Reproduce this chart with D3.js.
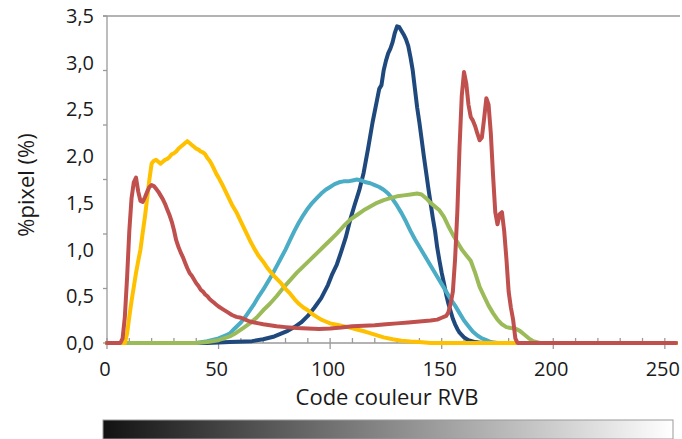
<!DOCTYPE html>
<html>
<head>
<meta charset="utf-8">
<script src="https://cdn.jsdelivr.net/npm/d3@7"></script>
<style>
  body { margin: 0; background: #fff; }
  text { font-family: "Open Sans", sans-serif; fill: #1a1a1a; }
</style>
</head>
<body>
<div id="chart"></div>
<script>
// tick labels
var xTicks = [0, 50, 100, 150, 200, 250];
var yTicks = [0, 0.5, 1, 1.5, 2, 2.5, 3, 3.5];

// series: code couleur (x) / %pixel (y)
var redX = [0, 6, 7, 8, 9, 10, 11, 12, 13, 14, 15, 16, 17, 18, 19, 20, 21, 22, 23, 24, 25, 26, 27, 28, 29, 30, 31, 32, 33, 34, 35, 36, 37, 38, 39, 40, 41, 42, 43, 44, 45, 46, 47, 48, 49, 50, 52, 54, 56, 58, 60, 62, 64, 66, 68, 70, 73, 76, 80, 85, 90, 95, 100, 105, 110, 115, 120, 125, 130, 135, 140, 145, 148, 150, 152, 153, 154, 155, 156, 157, 158, 159, 160, 161, 162, 163, 164, 165, 166, 167, 168, 169, 170, 171, 172, 173, 174, 175, 176, 177, 178, 179, 180, 181, 182, 183, 184, 255];
var redY = [0, 0, 0.05, 0.28, 0.7, 1.2, 1.55, 1.72, 1.77, 1.62, 1.52, 1.51, 1.56, 1.62, 1.67, 1.69, 1.68, 1.65, 1.62, 1.58, 1.54, 1.49, 1.43, 1.37, 1.3, 1.21, 1.1, 1.03, 0.97, 0.92, 0.86, 0.8, 0.75, 0.72, 0.68, 0.64, 0.61, 0.57, 0.55, 0.52, 0.5, 0.47, 0.45, 0.43, 0.41, 0.39, 0.36, 0.33, 0.3, 0.28, 0.27, 0.25, 0.23, 0.22, 0.21, 0.2, 0.19, 0.18, 0.17, 0.16, 0.155, 0.15, 0.155, 0.165, 0.18, 0.185, 0.19, 0.2, 0.21, 0.22, 0.23, 0.24, 0.25, 0.27, 0.29, 0.33, 0.42, 0.55, 0.9, 1.4, 2.1, 2.65, 2.9, 2.78, 2.55, 2.42, 2.38, 2.32, 2.24, 2.17, 2.2, 2.4, 2.62, 2.55, 2.25, 1.8, 1.4, 1.27, 1.38, 1.4, 1.2, 0.9, 0.55, 0.38, 0.25, 0.05, 0, 0];

var yellowX = [0, 8, 9, 10, 11, 12, 13, 14, 15, 16, 17, 18, 19, 20, 21, 22, 23, 24, 25, 26, 27, 28, 29, 30, 31, 32, 33, 34, 35, 36, 37, 38, 39, 40, 41, 42, 43, 44, 45, 46, 47, 48, 49, 50, 52, 54, 56, 58, 60, 62, 64, 66, 68, 70, 72, 74, 76, 78, 80, 82, 84, 86, 88, 90, 92, 94, 96, 98, 100, 104, 108, 112, 116, 120, 124, 128, 132, 136, 140, 145, 255];
var yellowY = [0, 0, 0.1, 0.28, 0.45, 0.6, 0.75, 0.88, 1.0, 1.18, 1.35, 1.55, 1.75, 1.92, 1.95, 1.96, 1.94, 1.92, 1.94, 1.96, 1.97, 1.99, 2.02, 2.03, 2.05, 2.08, 2.1, 2.12, 2.14, 2.16, 2.14, 2.12, 2.1, 2.08, 2.07, 2.05, 2.04, 2.02, 1.98, 1.95, 1.91, 1.86, 1.81, 1.77, 1.68, 1.58, 1.48, 1.4, 1.3, 1.2, 1.1, 1.01, 0.93, 0.87, 0.8, 0.74, 0.69, 0.64, 0.58, 0.53, 0.47, 0.42, 0.38, 0.35, 0.31, 0.28, 0.25, 0.23, 0.21, 0.19, 0.17, 0.145, 0.12, 0.09, 0.06, 0.04, 0.025, 0.015, 0.01, 0, 0];

var cyanX = [0, 40, 45, 50, 53, 55, 57, 60, 62, 64, 66, 68, 70, 72, 74, 76, 78, 80, 82, 84, 86, 88, 90, 92, 94, 96, 98, 100, 102, 104, 106, 108, 110, 112, 114, 116, 118, 120, 122, 124, 126, 128, 130, 132, 134, 136, 138, 140, 142, 144, 146, 148, 150, 152, 154, 156, 158, 160, 162, 164, 166, 168, 170, 172, 175, 255];
var cyanY = [0, 0, 0.02, 0.05, 0.08, 0.1, 0.15, 0.22, 0.28, 0.35, 0.42, 0.5, 0.57, 0.65, 0.73, 0.82, 0.91, 1.0, 1.1, 1.2, 1.29, 1.37, 1.44, 1.5, 1.55, 1.6, 1.64, 1.67, 1.7, 1.72, 1.73, 1.73, 1.74, 1.75, 1.74, 1.72, 1.71, 1.69, 1.67, 1.64, 1.6, 1.54, 1.47, 1.39, 1.3, 1.2, 1.11, 1.03, 0.95, 0.87, 0.79, 0.71, 0.63, 0.55, 0.47, 0.4, 0.32, 0.24, 0.18, 0.12, 0.08, 0.05, 0.03, 0.01, 0, 0];

var greenX = [0, 40, 45, 50, 55, 58, 61, 64, 67, 70, 73, 76, 79, 82, 85, 88, 91, 94, 97, 100, 103, 106, 109, 112, 115, 118, 121, 124, 127, 130, 133, 136, 139, 141, 143, 145, 147, 149, 151, 153, 155, 157, 159, 161, 163, 165, 167, 169, 171, 173, 175, 177, 179, 181, 183, 185, 187, 189, 191, 194, 255];
var greenY = [0, 0, 0.01, 0.03, 0.07, 0.11, 0.16, 0.21, 0.27, 0.35, 0.42, 0.5, 0.59, 0.67, 0.75, 0.82, 0.89, 0.96, 1.03, 1.1, 1.17, 1.25, 1.32, 1.37, 1.42, 1.46, 1.5, 1.53, 1.55, 1.57, 1.58, 1.59, 1.6, 1.59, 1.55, 1.5, 1.46, 1.42, 1.35, 1.25, 1.16, 1.08, 1.0, 0.94, 0.88, 0.75, 0.6, 0.5, 0.4, 0.32, 0.25, 0.2, 0.17, 0.16, 0.155, 0.13, 0.09, 0.05, 0.02, 0, 0];

var blueX = [0, 45, 55, 65, 70, 75, 78, 81, 84, 87, 90, 93, 96, 99, 101, 103, 105, 107, 109, 111, 113, 115, 117, 119, 121, 122, 123, 124, 125, 126, 127, 128, 129, 130, 131, 132, 133, 134, 135, 136, 137, 138, 139, 140, 141, 142, 143, 144, 145, 146, 147, 148, 149, 150, 151, 152, 153, 154, 155, 156, 157, 158, 160, 162, 165, 168, 255];
var blueY = [0, 0, 0.01, 0.02, 0.04, 0.07, 0.1, 0.13, 0.17, 0.22, 0.29, 0.38, 0.48, 0.62, 0.74, 0.84, 0.98, 1.13, 1.32, 1.48, 1.63, 1.82, 2.08, 2.36, 2.6, 2.72, 2.76, 2.92, 3.02, 3.1, 3.15, 3.22, 3.32, 3.39, 3.38, 3.34, 3.3, 3.25, 3.18, 3.06, 2.92, 2.72, 2.52, 2.36, 2.18, 2.0, 1.83, 1.66, 1.5, 1.34, 1.2, 1.02, 0.88, 0.75, 0.64, 0.52, 0.42, 0.34, 0.26, 0.2, 0.15, 0.11, 0.06, 0.03, 0.01, 0, 0];

// drawing order: last one on top
var series = [
  { x: blueX, y: blueY, color: "#1f497d" },
  { x: cyanX, y: cyanY, color: "#4bacc6" },
  { x: greenX, y: greenY, color: "#9bbb59" },
  { x: yellowX, y: yellowY, color: "#ffc000" },
  { x: redX, y: redY, color: "#c0504d" }
];

var width = 682, height = 439;
var svg = d3.select("#chart").append("svg")
    .attr("width", width)
    .attr("height", height);

var x = d3.scaleLinear().domain([0, 255]).range([107, 676]);
var y = d3.scaleLinear().domain([0, 3.5]).range([343, 16]);
var axisColor = "#9a9a9a";

// top line
svg.append("line")
    .attr("x1", 103).attr("x2", 680)
    .attr("y1", y(3.5)).attr("y2", y(3.5))
    .attr("stroke", axisColor).attr("stroke-width", 1.3);

// y axis line + tick marks (6 equal steps, as in the picture)
svg.append("line")
    .attr("x1", x(0)).attr("x2", x(0))
    .attr("y1", y(0)).attr("y2", y(3.5))
    .attr("stroke", axisColor).attr("stroke-width", 1.3);
svg.selectAll(".ytick")
    .data(d3.range(7))
    .enter().append("line")
    .attr("x1", x(0) - 4).attr("x2", x(0))
    .attr("y1", function (d) { return y(3.5 * d / 6); })
    .attr("y2", function (d) { return y(3.5 * d / 6); })
    .attr("stroke", axisColor).attr("stroke-width", 1.3);

svg.selectAll(".ylab")
    .data(yTicks)
    .enter().append("text")
    .attr("x", 94)
    .attr("y", function (d) { return y(d) + 7; })
    .attr("text-anchor", "end")
    .style("font-size", "20px")
    .text(function (d) { return d3.format(".1f")(d).replace(".", ","); });

// x axis
svg.append("line")
    .attr("x1", x(0)).attr("x2", x(255))
    .attr("y1", y(0)).attr("y2", y(0))
    .attr("stroke", axisColor).attr("stroke-width", 1.5);
svg.selectAll(".xminor")
    .data(d3.range(0, 251, 10).filter(function (d) { return d % 50 !== 0; }))
    .enter().append("line")
    .attr("x1", function (d) { return x(d); })
    .attr("x2", function (d) { return x(d); })
    .attr("y1", y(0) - 5).attr("y2", y(0))
    .attr("stroke", axisColor).attr("stroke-width", 1.3);
svg.selectAll(".xmajor")
    .data(xTicks)
    .enter().append("line")
    .attr("x1", function (d) { return x(d); })
    .attr("x2", function (d) { return x(d); })
    .attr("y1", y(0) - 5).attr("y2", y(0) + 6)
    .attr("stroke", axisColor).attr("stroke-width", 1.3);

svg.selectAll(".xlab")
    .data(xTicks)
    .enter().append("text")
    .attr("x", function (d) { return x(d) - 2; })
    .attr("y", 376)
    .attr("text-anchor", "middle")
    .style("font-size", "20px")
    .text(function (d) { return d; });

// titles
svg.append("text")
    .attr("x", 387).attr("y", 405)
    .attr("text-anchor", "middle")
    .style("font-size", "22px")
    .text("Code couleur RVB");

svg.append("text")
    .attr("transform", "translate(34,185) rotate(-90)")
    .attr("text-anchor", "middle")
    .style("font-size", "22px")
    .text("%pixel (%)");

// curves
var line = d3.line()
    .x(function (d) { return x(d[0]); })
    .y(function (d) { return y(d[1]); })
    .curve(d3.curveLinear);

series.forEach(function (s) {
    var pts = s.x.map(function (v, i) { return [v, s.y[i]]; });
    svg.append("path")
        .datum(pts)
        .attr("d", line)
        .attr("fill", "none")
        .attr("stroke", s.color)
        .attr("stroke-width", 4)
        .attr("stroke-linejoin", "round")
        .attr("stroke-linecap", "round");
});

// grey scale bar
var defs = svg.append("defs");
var grad = defs.append("linearGradient").attr("id", "grey");
grad.append("stop").attr("offset", "0%").attr("stop-color", "#121212");
grad.append("stop").attr("offset", "100%").attr("stop-color", "#ffffff");
svg.append("rect")
    .attr("x", 103).attr("y", 420)
    .attr("width", 570).attr("height", 19)
    .attr("fill", "url(#grey)")
    .attr("stroke", "#9a9a9a").attr("stroke-width", 1);
</script>
</body>
</html>
